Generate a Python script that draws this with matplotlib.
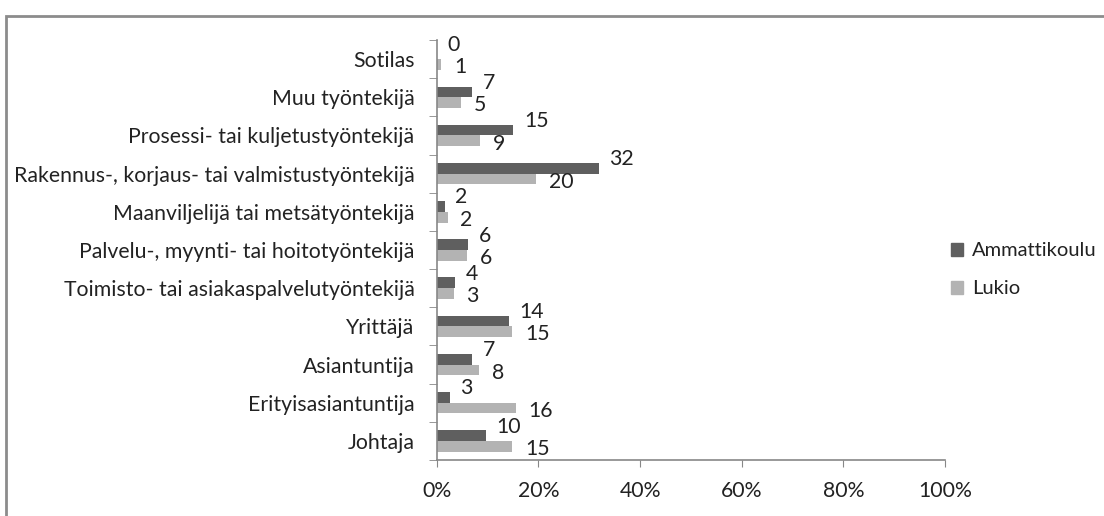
import matplotlib
matplotlib.use("Agg")
from matplotlib import pyplot as plt
from matplotlib.patches import Patch, Rectangle
from matplotlib.ticker import FuncFormatter

plt.rcParams['font.family'] = ['Lato', 'DejaVu Sans']

# categories listed from top to bottom
categories = ["Sotilas", "Muu työntekijä", "Prosessi- tai kuljetustyöntekijä",
              "Rakennus-, korjaus- tai valmistustyöntekijä",
              "Maanviljelijä tai metsätyöntekijä",
              "Palvelu-, myynti- tai hoitotyöntekijä",
              "Toimisto- tai asiakaspalvelutyöntekijä", "Yrittäjä",
              "Asiantuntija", "Erityisasiantuntija", "Johtaja"]
# percentages
ammattikoulu = [0.0, 7.0, 15.1, 31.9, 1.6, 6.2, 3.6, 14.2, 7.0, 2.6, 9.6]
lukio = [0.9, 4.8, 8.6, 19.6, 2.2, 6.0, 3.3, 14.9, 8.4, 15.6, 14.9]
series_names = ["Ammattikoulu", "Lukio"]

dark = '#5f5f5f'
light = '#b3b3b3'
axis_col = '#878787'
text_col = '#222222'
fs = 15.3

fig = plt.figure(figsize=(11.04, 5.16), dpi=100)
ax = fig.add_axes([0.3956, 0.1085, 0.4604, 0.814])

n = len(categories)
ypos = [n - 1 - i for i in range(n)]
h = 0.28
ax.barh([y + h / 2 for y in ypos], ammattikoulu, height=h, color=dark)
ax.barh([y - h / 2 for y in ypos], lukio, height=h, color=light)

# data labels
for y, a, l in zip(ypos, ammattikoulu, lukio):
    ax.annotate(f"{a:.0f}", (a, y + h / 2), xytext=(7.5, 6.5), textcoords='offset points',
                ha='left', va='center', fontsize=fs, color=text_col)
    ax.annotate(f"{l:.0f}", (l, y - h / 2), xytext=(9, -2), textcoords='offset points',
                ha='left', va='center', fontsize=fs, color=text_col)

ax.set_xlim(0, 100)
ax.set_ylim(-0.5, n - 0.5)
ax.set_xticks([0, 20, 40, 60, 80, 100])
ax.xaxis.set_major_formatter(FuncFormatter(lambda v, p: f"{v:.0f}%"))
ax.set_yticks(ypos)
ax.set_yticklabels(categories)
ax.set_yticks([i - 0.5 for i in range(n + 1)], minor=True)
ax.tick_params(axis='y', which='major', length=0, pad=16, labelsize=fs, labelcolor=text_col)
ax.tick_params(axis='y', which='minor', length=6, color=axis_col, direction='out')
ax.tick_params(axis='x', length=5, color=axis_col, pad=10, labelsize=fs, labelcolor=text_col)

for s in ['top', 'right']:
    ax.spines[s].set_visible(False)
for s in ['left', 'bottom']:
    ax.spines[s].set_color(axis_col)
    ax.spines[s].set_linewidth(1.2)

handles = [Patch(color=dark), Patch(color=light)]
fig.legend(handles, series_names, loc='center left', bbox_to_anchor=(0.845, 0.477),
           frameon=False, fontsize=14.5, handlelength=0.6, handleheight=0.6,
           handletextpad=0.45, labelspacing=1.05, labelcolor=text_col)

# outer chart border (cropped at right and bottom)
fig.patches.append(Rectangle((6 / 1104, -0.05), 1.2, 1 - 15.5 / 516 + 0.05,
                             transform=fig.transFigure, fill=False,
                             edgecolor='#8c8c8c', linewidth=2))

fig.savefig("out.png", dpi=100)
